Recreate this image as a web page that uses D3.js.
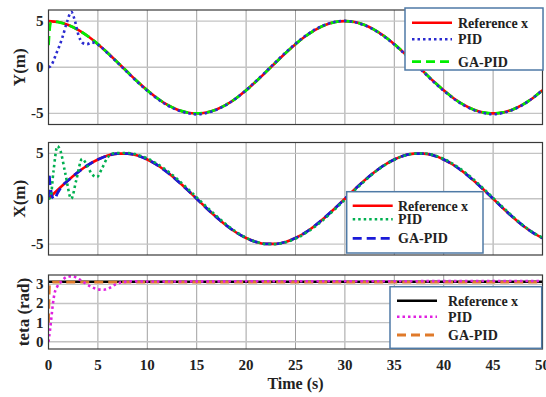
<!DOCTYPE html>
<html>
<head>
<meta charset="utf-8">
<script src="https://cdn.jsdelivr.net/npm/d3@7"></script>
<style>
  body { margin: 0; background: #fff; }
  text { font-family: "Liberation Serif", "Times New Roman", serif; font-weight: bold; fill: #222; }
</style>
</head>
<body>
<div class="chart"></div>
<script>
// sample times (s) for the reference tracks
const timeS = d3.range(0, 51);

// Y position panel
const yRef = [5.00,4.89,4.57,4.05,3.35,2.50,1.55,0.52,-0.52,-1.55,-2.50,-3.35,-4.05,-4.57,-4.89,-5.00,-4.89,-4.57,-4.05,-3.35,-2.50,-1.55,-0.52,0.52,1.55,2.50,3.35,4.05,4.57,4.89,5.00,4.89,4.57,4.05,3.35,2.50,1.55,0.52,-0.52,-1.55,-2.50,-3.35,-4.05,-4.57,-4.89,-5.00,-4.89,-4.57,-4.05,-3.35,-2.50];
const yPidHead = [[0,0],[0.2,0.1],[0.8,1.5],[1.4,3.2],[1.9,5.0],[2.3,6.0],[2.6,5.3],[3.0,3.6],[3.5,2.6],[3.9,2.5],[4.4,2.7],[5.0,2.45]];
const yPidTail = [1.5,0.47,-0.57,-1.6,-2.55,-3.4,-4.1,-4.62,-4.95,-5.1,-4.95,-4.6,-4.07,-3.35,-2.48,-1.5,-0.47,0.57,1.6,2.55,3.4,4.1,4.6,4.92,5.02,4.88,4.55,4.02,3.3,2.45,1.5,0.47,-0.57,-1.6,-2.55,-3.4,-4.1,-4.62,-4.95,-5.1,-4.95,-4.6,-4.07,-3.35,-2.48]; // t = 6..50
const yGaHead = [[0,2.4],[0.1,4.0],[0.25,4.85],[0.5,4.97]];
const yGaTail = [4.89,4.57,4.05,3.35,2.50,1.55,0.52,-0.52,-1.55,-2.50,-3.35,-4.05,-4.57,-4.89,-5.00,-4.89,-4.57,-4.05,-3.35,-2.50,-1.55,-0.52,0.52,1.55,2.50,3.35,4.05,4.57,4.89,5.00,4.89,4.57,4.05,3.35,2.50,1.55,0.52,-0.52,-1.55,-2.50,-3.35,-4.05,-4.57,-4.89,-5.00,-4.89,-4.57,-4.05,-3.35,-2.50]; // t = 1..50

// X position panel
const xRef = [0,1.04,2.03,2.94,3.72,4.33,4.76,4.97,4.97,4.76,4.33,3.72,2.94,2.03,1.04,0,-1.04,-2.03,-2.94,-3.72,-4.33,-4.76,-4.97,-4.97,-4.76,-4.33,-3.72,-2.94,-2.03,-1.04,0,1.04,2.03,2.94,3.72,4.33,4.76,4.97,4.97,4.76,4.33,3.72,2.94,2.03,1.04,0,-1.04,-2.03,-2.94,-3.72,-4.33];
const xPidHead = [[0,0],[0.2,0.1],[0.5,3.0],[0.9,5.8],[1.2,5.3],[1.7,2.8],[2.3,0.0],[2.8,2.0],[3.4,4.4],[3.9,3.7],[4.4,2.7],[4.9,2.4],[5.4,3.3],[5.9,4.4],[6.4,4.95]];
const xPidTail = [5.05,5.05,4.85,4.45,3.85,3.1,2.2,1.2,0.15,-0.9,-1.9,-2.85,-3.65,-4.3,-4.75,-4.98,-5.0,-4.8,-4.4,-3.8,-3.05,-2.15,-1.15,-0.1,0.95,1.95,2.9,3.68,4.3,4.75,4.97,5.0,4.8,4.4,3.8,3.05,2.15,1.15,0.1,-0.95,-1.95,-2.9,-3.68,-4.3]; // t = 7..50
const xGaHead = [[0,0],[0.05,2.8],[0.15,1.7],[0.35,0.3],[0.6,-0.05],[0.9,0.6],[1.3,1.3]];
const xGaTail = [2.03,2.94,3.72,4.33,4.76,4.97,4.97,4.76,4.33,3.72,2.94,2.03,1.04,0,-1.04,-2.03,-2.94,-3.72,-4.33,-4.76,-4.97,-4.97,-4.76,-4.33,-3.72,-2.94,-2.03,-1.04,0,1.04,2.03,2.94,3.72,4.33,4.76,4.97,4.97,4.76,4.33,3.72,2.94,2.03,1.04,0,-1.04,-2.03,-2.94,-3.72,-4.33]; // t = 2..50

// heading panel
const thRef = [[0,3.14],[50,3.14]];
const thPid = [[0,0],[0.15,0.6],[0.3,1.3],[0.45,2.0],[0.6,2.5],[0.85,2.85],[1.3,3.15],[1.9,3.4],[2.4,3.42],[3.0,3.3],[3.6,3.1],[4.3,2.88],[5.0,2.74],[5.6,2.72],[6.2,2.82],[6.8,3.0],[7.5,3.12],[8.5,3.16],[10,3.15],[20,3.16],[30,3.16],[40,3.17],[50,3.18]];
const thGa = [[0,1.0],[0.12,3.05],[0.5,3.12],[50,3.12]];

const xTicks = [0,5,10,15,20,25,30,35,40,45,50];
const legendNames = ['Reference x', 'PID', 'GA-PID'];

function join(head, tail, t0) {
  return head.concat(tail.map((v, i) => [t0 + i, v]));
}

const W = 546, H = 397;
const X0 = 48.5, X1 = 542.5;

const panels = [
  {
    top: 10, bottom: 124.5, domain: [-6.2, 6.2], ticks: [-5, 0, 5], label: 'Y(m)', labelX: 25,
    series: [
      { d: timeS.map((t, i) => [t, yRef[i]]), color: '#ff0000', dash: null, w: 2.6 },
      { d: join(yGaHead, yGaTail, 1), color: '#00ee00', dash: '9,5', w: 2.8 },
      { d: join(yPidHead, yPidTail, 6), color: '#2b2bd0', dash: '2.5,3', w: 2.6 }
    ],
    legend: { x: 405, y: 8, w: 138, h: 62, lx: 412, tx: 458, rows: [22.7, 39.3, 61.7], order: [0, 2, 1] }
  },
  {
    top: 142.5, bottom: 255, domain: [-6.2, 6.2], ticks: [-5, 0, 5], label: 'X(m)', labelX: 25,
    series: [
      { d: timeS.map((t, i) => [t, xRef[i]]), color: '#ff0000', dash: null, w: 2.6 },
      { d: join(xGaHead, xGaTail, 2), color: '#1a1ad8', dash: '9,5', w: 2.8 },
      { d: join(xPidHead, xPidTail, 7), color: '#00b050', dash: '2.5,3', w: 2.6 }
    ],
    legend: { x: 346.7, y: 191.7, w: 136.3, h: 61.3, lx: 352.7, tx: 398, rows: [205.7, 219.3, 238.3], order: [0, 2, 1] }
  },
  {
    top: 275, bottom: 349, domain: [-0.38, 3.49], ticks: [0, 1, 2, 3], label: 'teta (rad)', labelX: 29,
    series: [
      { d: thRef, color: '#000000', dash: null, w: 2.6 },
      { d: thGa, color: '#e07a2a', dash: '9,5', w: 2.8 },
      { d: thPid, color: '#e020e0', dash: '2.5,3', w: 2.6 }
    ],
    legend: { x: 390, y: 286.7, w: 151.7, h: 61.6, lx: 397, tx: 448, rows: [300.7, 316.7, 335], order: [0, 2, 1] }
  }
];

const svg = d3.select('.chart').append('svg')
  .attr('width', W).attr('height', H);

const x = d3.scaleLinear().domain([0, 50]).range([X0, X1]);

panels.forEach((p, pi) => {
  const y = d3.scaleLinear().domain(p.domain).range([p.bottom, p.top]);
  const g = svg.append('g');

  const clipId = 'clip' + pi;
  svg.append('clipPath').attr('id', clipId)
    .append('rect').attr('x', X0).attr('y', p.top).attr('width', X1 - X0).attr('height', p.bottom - p.top);

  // grid
  g.append('g').selectAll('line').data(xTicks.slice(1, -1)).enter().append('line')
    .attr('x1', d => x(d)).attr('x2', d => x(d))
    .attr('y1', p.top).attr('y2', p.bottom)
    .attr('stroke', '#a0a0a0').attr('stroke-width', 1);
  g.append('g').selectAll('line').data(p.ticks).enter().append('line')
    .attr('x1', X0).attr('x2', X1)
    .attr('y1', d => y(d)).attr('y2', d => y(d))
    .attr('stroke', '#c4c4c4').attr('stroke-width', 1.3);

  // series
  const line = d3.line().x(d => x(d[0])).y(d => y(d[1])).curve(d3.curveMonotoneX);
  p.series.forEach(s => {
    g.append('path')
      .attr('clip-path', `url(#${clipId})`)
      .attr('d', line(s.d))
      .attr('fill', 'none')
      .attr('stroke', s.color)
      .attr('stroke-width', s.w)
      .attr('stroke-dasharray', s.dash);
  });

  // box
  g.append('rect')
    .attr('x', X0).attr('y', p.top)
    .attr('width', X1 - X0).attr('height', p.bottom - p.top)
    .attr('fill', 'none').attr('stroke', '#3a3a3a').attr('stroke-width', 1.2);

  // y tick labels
  g.append('g').selectAll('text').data(p.ticks).enter().append('text')
    .attr('x', X0 - 5).attr('y', d => y(d) + 5)
    .attr('text-anchor', 'end')
    .attr('font-size', 15)
    .text(d => d);

  // y label
  g.append('text')
    .attr('transform', `translate(${p.labelX},${(p.top + p.bottom) / 2}) rotate(-90)`)
    .attr('text-anchor', 'middle')
    .attr('font-size', 17)
    .text(p.label);

  // legend
  const L = p.legend;
  const lg = svg.append('g');
  lg.append('rect')
    .attr('x', L.x).attr('y', L.y).attr('width', L.w).attr('height', L.h)
    .attr('fill', '#fff').attr('stroke', '#4f7aa6').attr('stroke-width', 1.5);
  L.order.forEach((si, row) => {
    const s = p.series[si];
    lg.append('line')
      .attr('x1', L.lx).attr('x2', L.lx + 40)
      .attr('y1', L.rows[row]).attr('y2', L.rows[row])
      .attr('stroke', s.color).attr('stroke-width', s.w)
      .attr('stroke-dasharray', s.dash);
    lg.append('text')
      .attr('x', L.tx).attr('y', L.rows[row] + 5)
      .attr('font-size', 14)
      .text(legendNames[row]);
  });

  // x tick labels on the bottom panel only
  if (pi === panels.length - 1) {
    g.append('g').selectAll('text').data(xTicks).enter().append('text')
      .attr('x', d => x(d)).attr('y', p.bottom + 21)
      .attr('text-anchor', 'middle')
      .attr('font-size', 15)
      .text(d => d);
    g.append('text')
      .attr('x', (X0 + X1) / 2).attr('y', p.bottom + 40)
      .attr('text-anchor', 'middle')
      .attr('font-size', 16)
      .text('Time (s)');
  }
});
</script>
</body>
</html>
